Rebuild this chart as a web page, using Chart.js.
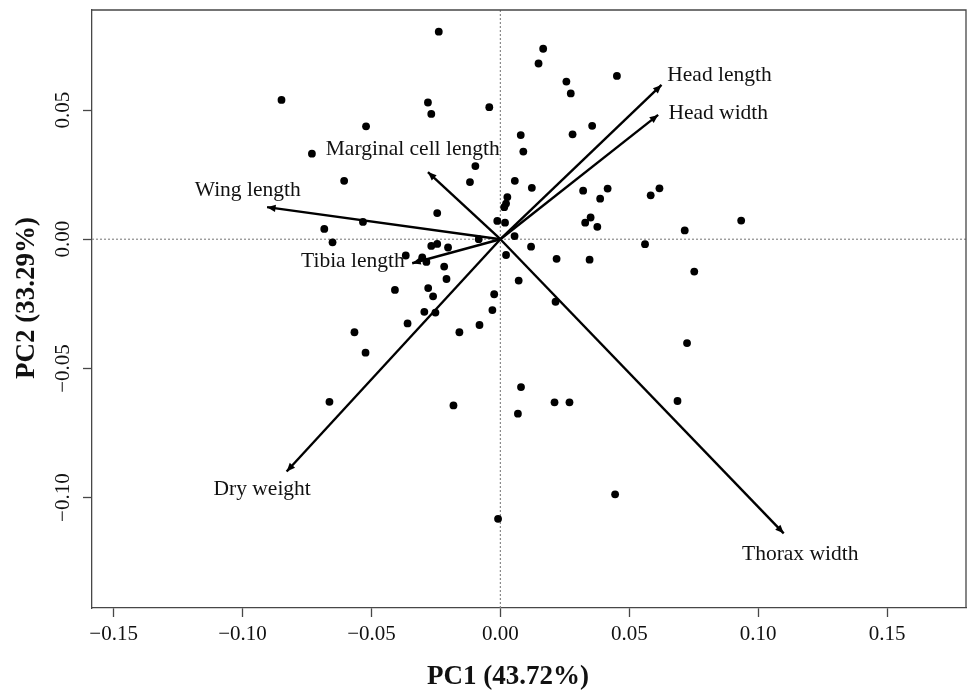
<!DOCTYPE html>
<html>
<head>
<meta charset="utf-8">
<title>PCA biplot</title>
<script src="https://cdn.jsdelivr.net/npm/chart.js@4.4.1/dist/chart.umd.min.js"></script>
<style>
  html, body { margin: 0; padding: 0; background: #fff; }
  #wrap { width: 970px; height: 690px; }
</style>
</head>
<body>
<div id="wrap"><canvas id="chart" width="970" height="690"></canvas></div>
<script>
// Individual scores
const scorePC1 = [
  -0.0239, -0.0849, -0.0281, -0.0268, -0.0521, -0.0731, -0.0043, -0.0097, -0.0606, -0.0118,
  -0.0245, -0.0533, -0.0683, -0.0651, -0.0012, -0.0084, -0.0268, -0.0245, -0.0203, -0.0367,
  -0.0303, -0.0287, -0.0218, -0.0209, -0.0409, -0.0280, -0.0261, -0.0024, -0.0031, -0.0295,
  -0.0252, -0.0360, -0.0081, -0.0159, -0.0566, -0.0523, -0.0663, -0.0182, -0.0009, 0.0080,
  0.0068, 0.0210, 0.0268, 0.0687, 0.0445, 0.0724, 0.0214, 0.0071, 0.0022, 0.0119,
  0.0055, 0.0218, 0.0346, 0.0561, 0.0752, 0.0715, 0.0934, 0.0018, 0.0329, 0.0350,
  0.0376, 0.0027, 0.0022, 0.0015, 0.0056, 0.0122, 0.0321, 0.0416, 0.0387, 0.0583,
  0.0617, 0.0079, 0.0089, 0.0280, 0.0356, 0.0166, 0.0148, 0.0256, 0.0273, 0.0452
];
const scorePC2 = [
  0.0803, 0.0539, 0.0529, 0.0485, 0.0437, 0.0331, 0.0511, 0.0283, 0.0226, 0.0221,
  0.0101, 0.0067, 0.0040, -0.0012, 0.0071, 0.0000, -0.0026, -0.0018, -0.0032, -0.0063,
  -0.0070, -0.0088, -0.0106, -0.0154, -0.0196, -0.0189, -0.0221, -0.0213, -0.0274, -0.0281,
  -0.0284, -0.0326, -0.0332, -0.0360, -0.0360, -0.0439, -0.0629, -0.0643, -0.1082, -0.0572,
  -0.0675, -0.0631, -0.0631, -0.0626, -0.0987, -0.0402, -0.0242, -0.0160, -0.0061, -0.0029,
  0.0012, -0.0076, -0.0079, -0.0019, -0.0125, 0.0034, 0.0072, 0.0064, 0.0064, 0.0084,
  0.0048, 0.0163, 0.0138, 0.0124, 0.0226, 0.0199, 0.0188, 0.0196, 0.0157, 0.0170,
  0.0197, 0.0403, 0.0339, 0.0406, 0.0439, 0.0737, 0.0680, 0.0610, 0.0564, 0.0632
];

// Variable loadings (arrow tips) and where their names sit
const variables = ['Head length', 'Head width', 'Marginal cell length', 'Wing length',
  'Tibia length', 'Dry weight', 'Thorax width'];
const loadPC1 = [0.0625, 0.0612, -0.0281, -0.0905, -0.0342, -0.0829, 0.1099];
const loadPC2 = [0.0597, 0.0481, 0.0260, 0.0124, -0.0093, -0.0899, -0.1138];
const labelPC1 = [0.0850, 0.0845, -0.0340, -0.0980, -0.0572, -0.0924, 0.1163];
const labelPC2 = [0.0633, 0.0487, 0.0349, 0.0191, -0.0087, -0.0966, -0.1221];

const xTicks = [-0.15, -0.10, -0.05, 0, 0.05, 0.10, 0.15];
const yTicks = [-0.10, -0.05, 0, 0.05];
const xRange = [-0.1584, 0.1806];
const yRange = [-0.1427, 0.0887];
const xTitle = 'PC1 (43.72%)';
const yTitle = 'PC2 (33.29%)';

const serif = '"Liberation Serif", "Times New Roman", Times, serif';
const boxColor = '#474747';
const fmt = (v) => (v < 0 ? '\u2212' : '') + Math.abs(v).toFixed(2);

const datasets = [];

// dotted zero lines
datasets.push({
  data: [{ x: xRange[0], y: 0 }, { x: xRange[1], y: 0 }],
  showLine: true, pointRadius: 0, borderColor: '#8a8a8a', borderWidth: 1.2,
  borderDash: [2, 2], order: 3
});
datasets.push({
  data: [{ x: 0, y: yRange[0] }, { x: 0, y: yRange[1] }],
  showLine: true, pointRadius: 0, borderColor: '#8a8a8a', borderWidth: 1.2,
  borderDash: [2, 2], order: 3
});

// scores
datasets.push({
  data: scorePC1.map((v, i) => ({ x: v, y: scorePC2[i] })),
  pointRadius: 3.9, pointBackgroundColor: '#000', pointBorderWidth: 0, order: 2
});

// loading arrows
variables.forEach((name, i) => {
  datasets.push({
    label: name,
    isArrow: true,
    data: [{ x: 0, y: 0 }, { x: loadPC1[i], y: loadPC2[i] }],
    showLine: true, pointRadius: 0, borderColor: '#000', borderWidth: 2.4, order: 1
  });
});

const biplotExtras = {
  id: 'biplotExtras',
  afterDatasetsDraw(chart) {
    const { ctx, scales: { x, y } } = chart;
    ctx.save();
    // arrow heads
    chart.data.datasets.forEach((ds, i) => {
      if (!ds.isArrow) return;
      const pts = chart.getDatasetMeta(i).data;
      const a = pts[0], b = pts[1];
      const ang = Math.atan2(b.y - a.y, b.x - a.x);
      const len = 8.5, half = 3.6;
      const bx = b.x - len * Math.cos(ang), by = b.y - len * Math.sin(ang);
      ctx.beginPath();
      ctx.moveTo(b.x, b.y);
      ctx.lineTo(bx + half * Math.sin(ang), by - half * Math.cos(ang));
      ctx.lineTo(bx - half * Math.sin(ang), by + half * Math.cos(ang));
      ctx.closePath();
      ctx.fillStyle = '#000';
      ctx.fill();
    });
    // variable names
    ctx.font = '21.5px ' + serif;
    ctx.fillStyle = '#111';
    ctx.textAlign = 'center';
    ctx.textBaseline = 'middle';
    variables.forEach((name, i) => {
      ctx.fillText(name, x.getPixelForValue(labelPC1[i]), y.getPixelForValue(labelPC2[i]));
    });
    ctx.restore();
  },
  afterDraw(chart) {
    const { ctx, chartArea: a } = chart;
    ctx.save();
    // rest of the box
    ctx.strokeStyle = boxColor;
    ctx.lineWidth = 1.3;
    ctx.beginPath();
    ctx.moveTo(a.left, a.top);
    ctx.lineTo(a.right, a.top);
    ctx.lineTo(a.right, a.bottom);
    ctx.stroke();
    // axis titles
    ctx.fillStyle = '#111';
    ctx.font = 'bold 27px ' + serif;
    ctx.textAlign = 'center';
    ctx.textBaseline = 'middle';
    ctx.fillText(xTitle, 508, 677);
    ctx.translate(27, 298);
    ctx.rotate(-Math.PI / 2);
    ctx.fillText(yTitle, 0, 0);
    ctx.restore();
  }
};

new Chart(document.getElementById('chart'), {
  type: 'scatter',
  data: { datasets },
  options: {
    responsive: false,
    animation: false,
    devicePixelRatio: 1,
    layout: { padding: { top: 10, right: 1, left: 0, bottom: 0 } },
    plugins: { legend: { display: false }, tooltip: { enabled: false } },
    scales: {
      x: {
        type: 'linear', position: 'bottom', min: xRange[0], max: xRange[1],
        afterBuildTicks: (s) => { s.ticks = xTicks.map(value => ({ value })); },
        afterFit: (s) => { s.height = 82; s.paddingLeft = 0; s.paddingRight = 0; },
        grid: { drawOnChartArea: false, tickLength: 9, tickColor: boxColor, tickWidth: 1.3 },
        border: { display: true, color: boxColor, width: 1.3 },
        ticks: {
          autoSkip: false, maxRotation: 0, padding: 5, color: '#111',
          font: { family: serif, size: 21 }, callback: (v) => fmt(v)
        }
      },
      y: {
        type: 'linear', position: 'left', min: yRange[0], max: yRange[1],
        afterBuildTicks: (s) => { s.ticks = yTicks.map(value => ({ value })); },
        afterFit: (s) => { s.width = 92; s.paddingTop = 0; s.paddingBottom = 0; },
        grid: { drawOnChartArea: false, tickLength: 9, tickColor: boxColor, tickWidth: 1.3 },
        border: { display: true, color: boxColor, width: 1.3 },
        ticks: {
          autoSkip: false, minRotation: 90, maxRotation: 90, crossAlign: 'center',
          padding: -5, color: '#111', font: { family: serif, size: 21 },
          callback: (v) => fmt(v)
        }
      }
    }
  },
  plugins: [biplotExtras]
});
</script>
</body>
</html>
